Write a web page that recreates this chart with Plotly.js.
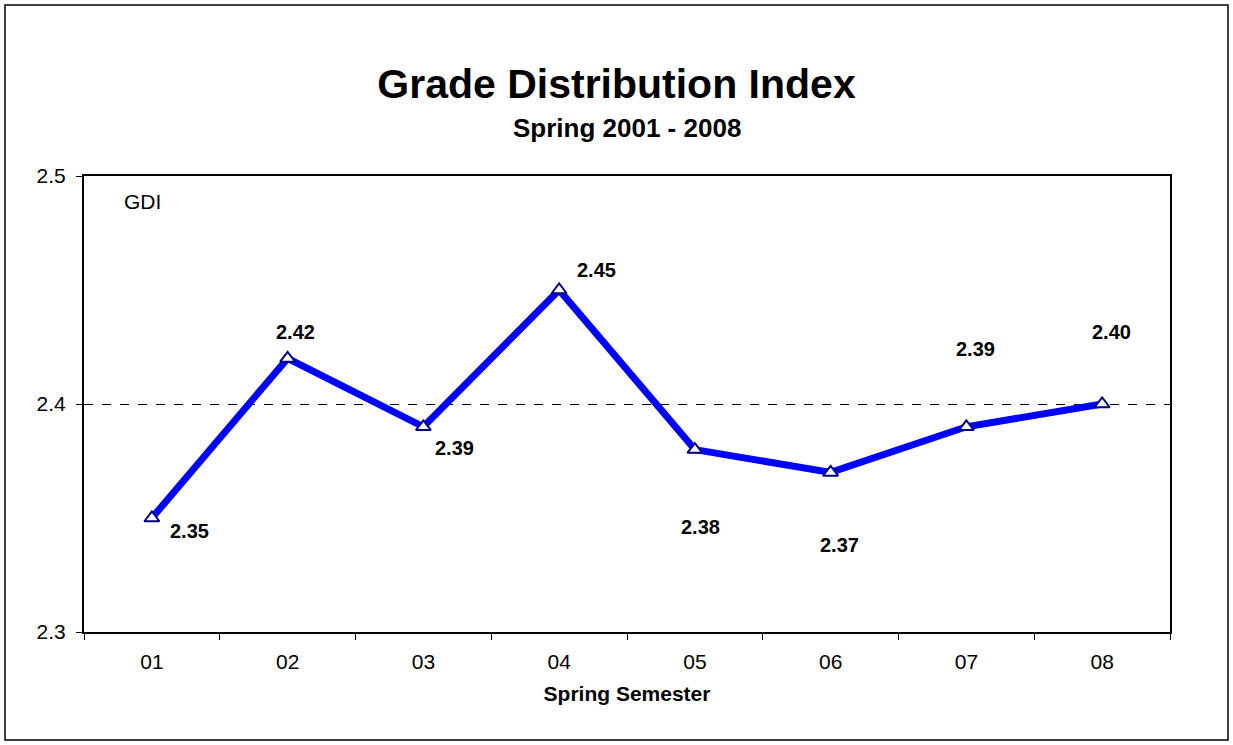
<!DOCTYPE html>
<html>
<head>
<meta charset="utf-8">
<script src="https://cdn.plot.ly/plotly-3.0.1.min.js"></script>
<style>
html,body{margin:0;padding:0;background:#fff;}
#chart{width:1233px;height:745px;}
</style>
</head>
<body>
<div id="chart"></div>
<script>
// Data
const categories = ["01", "02", "03", "04", "05", "06", "07", "08"];
const gdiValues = [2.35, 2.42, 2.39, 2.45, 2.38, 2.37, 2.39, 2.40];
const seriesName = "GDI";
const yTickValues = [2.3, 2.4, 2.5];

// Label pixel offsets (layout only)
const labelShiftX = [38, 8, 31, 37, 6, 9, 9, 9];
const labelShiftY = [-13, 26, -21, 20, -77, -73, 78, 72];

const FONT = "Arial, 'Liberation Sans', sans-serif";

const trace = {
  x: categories,
  y: gdiValues,
  type: "scatter",
  mode: "lines+markers",
  name: seriesName,
  line: {color: "#0000FF", width: 7},
  marker: {symbol: "triangle-up", size: 13, color: "#FFFFFF", line: {color: "#000080", width: 2}},
  showlegend: false,
  hoverinfo: "x+y"
};

const annotations = categories.map((c, i) => ({
  x: i, y: gdiValues[i], xref: "x", yref: "y",
  text: "<b>" + gdiValues[i].toFixed(2) + "</b>",
  showarrow: false,
  xshift: labelShiftX[i], yshift: labelShiftY[i],
  font: {family: FONT, size: 20, color: "#000"}
}));

annotations.push({
  xref: "paper", yref: "paper", x: 0.5, y: 1.105, xanchor: "center", yanchor: "middle",
  text: "<b>Spring 2001 - 2008</b>", showarrow: false,
  font: {family: FONT, size: 26, color: "#000"}
});
annotations.push({
  xref: "paper", yref: "paper", x: 0.054, y: 0.945, xanchor: "center", yanchor: "middle",
  text: seriesName, showarrow: false,
  font: {family: FONT, size: 21, color: "#000"}
});

const L = 84, R = 1170, T = 176, B = 632, W = 1233, H = 745;
const pw = R - L, ph = B - T;

const layout = {
  width: W, height: H,
  margin: {l: L, r: W - R, t: T, b: H - B},
  paper_bgcolor: "#fff", plot_bgcolor: "#fff",
  font: {family: FONT, color: "#000"},
  title: {
    text: "<b>Grade Distribution Index</b>",
    font: {family: FONT, size: 41, color: "#000"},
    x: 0.5, xref: "container", xanchor: "center",
    y: 1 - 84 / H, yref: "container", yanchor: "middle"
  },
  xaxis: {
    type: "category",
    range: [-0.5, categories.length - 0.5],
    showline: true, linecolor: "#000", linewidth: 2, mirror: true,
    ticks: "outside", tickson: "boundaries", ticklen: 6, tickcolor: "#000", tickwidth: 1,
    showgrid: false, zeroline: false,
    tickfont: {family: FONT, size: 21, color: "#000"},
    ticklabelstandoff: 10,
    title: {text: "<b>Spring Semester</b>", font: {family: FONT, size: 21, color: "#000"}, standoff: 14}
  },
  yaxis: {
    range: [2.3, 2.5],
    tickvals: yTickValues,
    ticktext: yTickValues.map(v => v.toFixed(1)),
    showline: true, linecolor: "#000", linewidth: 2, mirror: true,
    ticks: "outside", ticklen: 6, tickcolor: "#000", tickwidth: 1,
    showgrid: true, gridcolor: "#000", gridwidth: 1, griddash: "dash",
    zeroline: false,
    tickfont: {family: FONT, size: 21, color: "#000"},
    ticklabelstandoff: 6
  },
  shapes: [{
    type: "rect", xref: "paper", yref: "paper",
    x0: (5 - L) / pw, x1: (1228 - L) / pw,
    y0: (B - 740) / ph, y1: (B - 5) / ph,
    line: {color: "#000", width: 1.5}, fillcolor: "rgba(0,0,0,0)", layer: "below"
  }],
  annotations: annotations
};

Plotly.newPlot("chart", [trace], layout, {displayModeBar: false, staticPlot: true});
</script>
</body>
</html>
